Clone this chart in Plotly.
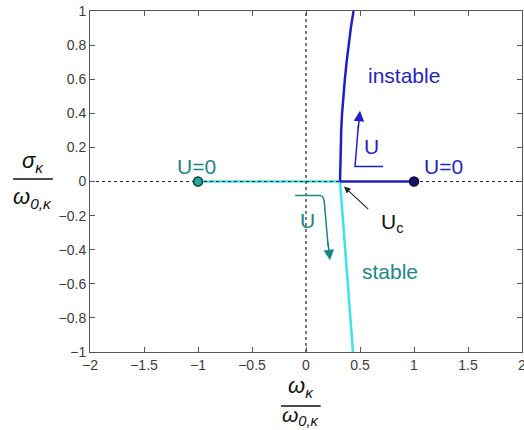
import plotly.graph_objects as go

# Unstable branch (sigma > 0) and its start on the real axis
blue_sigma = [0.0, 0.1, 0.2, 0.3, 0.4, 0.5, 0.6, 0.7, 0.8, 0.9, 1.0]
blue_omega = [0.315, 0.317, 0.32, 0.326, 0.334, 0.345, 0.36, 0.376, 0.395, 0.415, 0.44]
blue_axis_omega = [1.0, 0.315]
blue_axis_sigma = [0.0, 0.0]

# Stable branch (sigma < 0) and its start on the real axis
cyan_sigma = [0.0, -0.25, -0.5, -0.75, -1.0]
cyan_omega = [0.315, 0.345, 0.375, 0.405, 0.435]
cyan_axis_omega = [-1.0, 0.315]
cyan_axis_sigma = [0.0, 0.0]

# U = 0 starting points
start_omega = [-1.0, 1.0]
start_sigma = [0.0, 0.0]

x_ticks = [-2, -1.5, -1, -0.5, 0, 0.5, 1, 1.5]
x_tick_text = ["\u22122", "\u22121.5", "\u22121", "\u22120.5", "0", "0.5", "1", "1.5"]
x_last_tick = 2
y_ticks = [-1, -0.8, -0.6, -0.4, -0.2, 0, 0.2, 0.4, 0.6, 0.8, 1]
y_tick_text = ["\u22121", "\u22120.8", "\u22120.6", "\u22120.4", "\u22120.2", "0",
               "0.2", "0.4", "0.6", "0.8", "1"]

BLUE = "#1f1fc4"
BLUE_TXT = "#2626b8"
CYAN = "#3fe3e3"
TEAL = "#1e8585"
FONT = "Liberation Sans, Arial, sans-serif"
TICK_COLOR = "#3c3c3c"

fig = go.Figure()

# cyan stable branch
fig.add_trace(go.Scatter(x=cyan_axis_omega, y=cyan_axis_sigma, mode="lines",
                         line=dict(color=CYAN, width=2.5), hoverinfo="skip"))
fig.add_trace(go.Scatter(x=cyan_omega, y=cyan_sigma, mode="lines",
                         line=dict(color=CYAN, width=2.5), hoverinfo="skip"))

# dotted coordinate axes
fig.add_trace(go.Scatter(x=[-2, 2], y=[0, 0], mode="lines",
                         line=dict(color="#222222", width=1.2, dash="dot"), hoverinfo="skip"))
fig.add_trace(go.Scatter(x=[0, 0], y=[-1, 1], mode="lines",
                         line=dict(color="#222222", width=1.2, dash="dot"), hoverinfo="skip"))

# blue unstable branch
fig.add_trace(go.Scatter(x=blue_axis_omega, y=blue_axis_sigma, mode="lines",
                         line=dict(color=BLUE, width=2.5), hoverinfo="skip"))
fig.add_trace(go.Scatter(x=blue_omega, y=blue_sigma, mode="lines",
                         line=dict(color=BLUE, width=2.5), hoverinfo="skip"))

# start markers
fig.add_trace(go.Scatter(x=start_omega, y=start_sigma, mode="markers",
                         marker=dict(size=9, color=["#2aa8a0", "#121268"],
                                     line=dict(color=["#0b3b3b", "#0a0a40"], width=1.5)),
                         hoverinfo="skip"))

# L-shaped direction arrows for increasing U
fig.add_shape(type="path", path="M 0.713,0.088 L 0.454,0.088 L 0.485,0.33",
              line=dict(color=BLUE, width=1.5), xref="x", yref="y")
fig.add_shape(type="path", path="M -0.10,-0.082 L 0.13,-0.082 Q 0.17,-0.082 0.172,-0.14 L 0.205,-0.38",
              line=dict(color=TEAL, width=1.5), xref="x", yref="y")

annotations = [
    # arrow heads
    dict(x=0.5, y=0.415, ax=0.482, ay=0.30, xref="x", yref="y", axref="x", ayref="y",
         showarrow=True, arrowhead=2, arrowsize=1.4, arrowwidth=1.5, arrowcolor=BLUE, text=""),
    dict(x=0.222, y=-0.462, ax=0.203, ay=-0.35, xref="x", yref="y", axref="x", ayref="y",
         showarrow=True, arrowhead=2, arrowsize=1.4, arrowwidth=1.5, arrowcolor=TEAL, text=""),
    # U_c pointer
    dict(x=0.352, y=-0.03, ax=0.59, ay=-0.17, xref="x", yref="y", axref="x", ayref="y",
         showarrow=True, arrowhead=2, arrowsize=1.2, arrowwidth=1.1, arrowcolor="#222222", text=""),
    # last x tick label, at the right edge of the figure
    dict(x=x_last_tick, y=0, xref="x", yref="paper", text="2", showarrow=False,
         yanchor="top", xanchor="center", yshift=-3,
         font=dict(family=FONT, size=14, color=TICK_COLOR)),
]

labels = [
    ("instable", 0.903, 0.62, BLUE_TXT),
    ("U", 0.61, 0.205, BLUE_TXT),
    ("U=0", 1.27, 0.09, BLUE_TXT),
    ("U=0", -1.01, 0.09, TEAL),
    ("U", 0.01, -0.228, TEAL),
    ("stable", 0.778, -0.526, TEAL),
    ("U<sub>c</sub>", 0.80, -0.245, "#111111"),
]
for txt, x, y, col in labels:
    annotations.append(dict(x=x, y=y, xref="x", yref="y", text=txt, showarrow=False,
                            xanchor="center", yanchor="middle",
                            font=dict(family=FONT, size=21, color=col)))

# fraction axis titles
def fraction(xc, y_num, y_line, y_den, num, den, den_size=22):
    annotations.append(dict(x=xc, y=y_num, xref="paper", yref="paper", text=num,
                            xanchor="center", yanchor="middle", showarrow=False,
                            font=dict(family=FONT, size=22, color="#111111")))
    annotations.append(dict(x=xc, y=y_den, xref="paper", yref="paper", text=den,
                            xanchor="center", yanchor="middle", showarrow=False,
                            font=dict(family=FONT, size=den_size, color="#111111")))
    fig.add_shape(type="line", xref="paper", yref="paper", x0=xc - 0.046, x1=xc + 0.046,
                  y0=y_line, y1=y_line, line=dict(color="#111111", width=1.5))

fraction(-0.132, 0.557, 0.507, 0.452, "<i>\u03c3<sub>\u03ba</sub></i>", "<i>\u03c9<sub>0,\u03ba</sub></i>")
fraction(0.488, -0.103, -0.158, -0.188, "<i>\u03c9<sub>\u03ba</sub></i>", "<i>\u03c9<sub>0,\u03ba</sub></i>",
         den_size=21)

fig.update_layout(
    width=524, height=430,
    margin=dict(l=90, r=2, t=11, b=78),
    paper_bgcolor="white", plot_bgcolor="white",
    showlegend=False,
    annotations=annotations,
    font=dict(family=FONT, size=14, color=TICK_COLOR),
)
axis_style = dict(showgrid=False, zeroline=False, showline=True, linecolor="#555555",
                  linewidth=1, mirror="ticks", ticks="inside", ticklen=5,
                  tickcolor="#555555", tickfont=dict(family=FONT, size=14, color=TICK_COLOR))
fig.update_xaxes(range=[-2, 2], tickvals=x_ticks + [x_last_tick],
                 ticktext=x_tick_text + [""], **axis_style)
fig.update_yaxes(range=[-1, 1], tickvals=y_ticks, ticktext=y_tick_text, **axis_style)

fig.write_html("out.html")
